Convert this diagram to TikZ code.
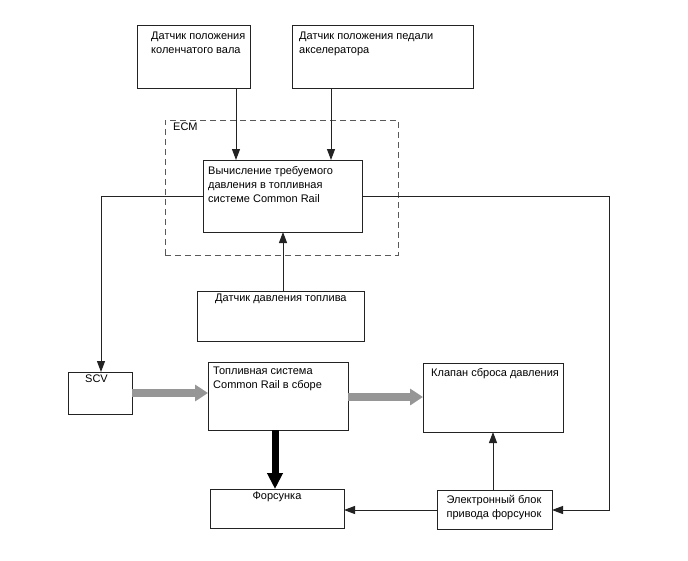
\documentclass[tikz,border=0pt]{standalone}
\usepackage{fontspec}
\setmainfont{Liberation Sans}
\usetikzlibrary{arrows.meta}
\definecolor{flowgray}{RGB}{150,150,150}
\definecolor{edgeblk}{RGB}{35,35,35}
\tikzset{
  box/.style={draw=edgeblk, line width=1pt, fill=white, inner sep=0pt, outer sep=0pt},
  ecmbox/.style={draw=black!65, line width=1pt, dash pattern=on 6pt off 4pt, inner sep=0pt, outer sep=0pt},
  lbl/.style={inner sep=0pt, font=\fontsize{11}{14}\selectfont, align=left, text=black},
  sig/.style={draw=edgeblk, line width=1pt, -{Triangle[length=11pt,width=8pt]}},
  flow/.style={draw=flowgray, line width=8pt, -{Triangle[length=13pt,width=16pt]}},
  thick flow/.style={draw=black, line width=7pt, -{Triangle[length=16pt,width=15pt]}}
}
\begin{document}
\begin{tikzpicture}[x=1pt,y=-1pt]
\path[use as bounding box, fill=white] (0,0) rectangle (688,560);

% ECM dashed frame
\node[ecmbox, minimum width=233pt, minimum height=135pt] (ecm) at (281.5,187.5) {};
\node[lbl, anchor=north west] (ecmt) at (173,123) {ECM};

% boxes
\node[box, minimum width=113pt, minimum height=63pt] (b1) at (193.5,56.5) {};
\node[box, minimum width=181pt, minimum height=63pt] (b2) at (382.5,56.5) {};
\node[box, minimum width=159pt, minimum height=72pt] (calc) at (282.5,196) {};
\node[box, minimum width=167pt, minimum height=50pt] (fps) at (280.5,316) {};
\node[box, minimum width=64pt, minimum height=42pt] (scv) at (100,393) {};
\node[box, minimum width=140pt, minimum height=68pt] (cr) at (278,396) {};
\node[box, minimum width=140pt, minimum height=69pt] (valve) at (493,397.5) {};
\node[box, minimum width=134pt, minimum height=39pt] (fors) at (277,508.5) {};
\node[box, minimum width=115pt, minimum height=39pt] (eb) at (494.5,509.5) {};

% labels
\node[lbl, anchor=north west] (t1) at (151,32) {Датчик положения\\коленчатого вала};
\node[lbl, anchor=north west] (t2) at (299,32) {Датчик положения педали\\акселератора};
\node[lbl, anchor=north west] (tc) at (208,166) {Вычисление требуемого\\давления в топливная\\системе Common Rail};
\node[lbl, anchor=north west] (tf) at (215,294) {Датчик давления топлива};
\node[lbl, anchor=north] (ts) at (96.5,375) {SCV};
\node[lbl, anchor=north west] (tr) at (213,367) {Топливная система\\Common Rail в сборе};
\node[lbl, anchor=north west] (tv) at (431,368) {Клапан сброса давления};
\node[lbl, anchor=north] (tfo) at (277,492) {Форсунка};
\node[lbl, anchor=north, align=center] (te) at (494,495) {Электронный блок\\привода форсунок};

% helper coordinates
\coordinate (lc) at (101,196);
\coordinate (rc) at (609,196);
\coordinate (rb) at (609,510);

% signal connectors
\draw[sig] (b1.south -| 236,0) -- (calc.north -| 236,0);
\draw[sig] (b2.south -| 331,0) -- (calc.north -| 331,0);
\draw[sig] (fps.north -| 283,0) -- (calc.south -| 283,0);
\draw[sig] (calc.west |- lc) -- (lc) -- (scv.north -| lc);
\draw[sig] (calc.east |- rc) -- (rc) -- (rb) -- (eb.east |- rb);
\draw[sig] (eb.west |- rb) -- (fors.east |- rb);
\draw[sig] (eb.north -| 493,0) -- (valve.south -| 493,0);

% flow arrows
\draw[flow] (scv.east |- 0,393) -- (cr.west |- 0,393);
\draw[flow] (cr.east |- 0,397) -- (valve.west |- 0,397);
\draw[thick flow] (cr.south -| 275,0) -- (fors.north -| 275,0);
\end{tikzpicture}
\end{document}
